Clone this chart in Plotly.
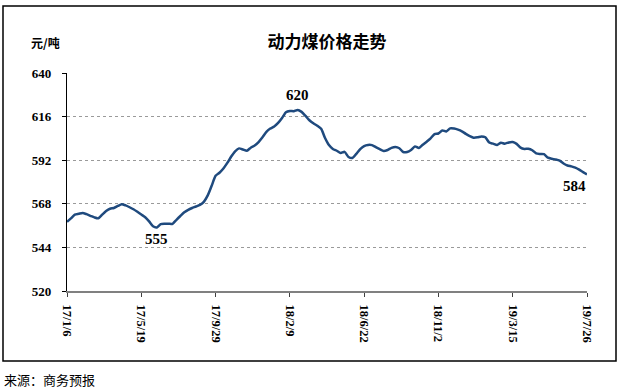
import pandas as pd
import plotly.graph_objects as go

# Weekly thermal coal price (元/吨), 2017-01-06 .. 2019-07-26
start_date = "2017-01-06"
prices = [
    558.1, 560.0, 562.0, 562.5, 563.0, 562.3, 561.4, 560.5, 560.0, 562.0,
    564.0, 565.3, 565.7, 566.8, 567.8, 567.1, 566.1, 565.0, 563.6, 562.1,
    560.6, 558.3, 555.6, 555.0, 556.8, 557.0, 557.0, 557.0, 559.2, 561.3,
    563.3, 564.7, 565.7, 566.5, 567.4, 569.1, 572.6, 577.9, 583.4, 585.1,
    587.4, 590.5, 594.0, 596.9, 598.5, 597.9, 597.2, 598.9, 600.1, 602.0,
    604.6, 607.6, 609.4, 610.6, 612.5, 615.2, 618.4, 619.1, 619.0, 619.7,
    618.6, 616.4, 614.0, 612.3, 611.0, 609.3, 604.2, 600.3, 598.2, 597.2,
    596.0, 596.6, 593.8, 593.2, 595.5, 598.1, 599.8, 600.4, 600.3, 599.2,
    598.1, 597.1, 597.6, 598.8, 599.3, 598.6, 596.5, 596.5, 597.6, 599.6,
    598.7, 600.5, 602.2, 604.0, 606.4, 606.7, 608.4, 607.8, 609.5, 609.4,
    608.8, 607.9, 606.5, 605.3, 604.4, 604.6, 605.1, 604.6, 601.7, 601.1,
    600.4, 601.6, 601.1, 601.8, 602.0, 601.0, 598.9, 598.2, 598.3, 597.5,
    595.7, 595.4, 595.3, 593.4, 592.8, 592.4, 591.8, 590.2, 589.1, 588.6,
    587.9, 586.8, 585.4, 584.2,
]
dates = pd.date_range(start_date, periods=len(prices), freq="7D")

tick_step = 19  # weeks between labelled ticks
tick_labels = ["17/1/6", "17/5/19", "17/9/29", "18/2/9", "18/6/22", "18/11/2", "19/3/15", "19/7/26"]
y_ticks = [520, 544, 568, 592, 616, 640]

# labelled extremes: (index, text)
label_peak = (59, "620")
label_low = (23, "555")
label_last = (len(prices) - 1, "584")

title_text = "动力煤价格走势"
unit_text = "元/吨"
source_text = "来源：商务预报"

serif = "Liberation Serif"
cjk = "Noto Sans CJK SC"

fig = go.Figure()
fig.add_trace(go.Scatter(
    x=dates, y=prices, mode="lines",
    line=dict(color="#1F4A7E", width=2.5, shape="spline", smoothing=0.6),
    hoverinfo="skip", showlegend=False,
))

fig.update_layout(
    width=618, height=390,
    margin=dict(l=67, r=31, t=73, b=99),
    paper_bgcolor="white", plot_bgcolor="white",
    title=dict(text=title_text, x=327 / 618, y=1 - 42 / 390, xanchor="center", yanchor="middle",
               font=dict(family=cjk, size=17, color="black", weight="bold")),
)

fig.update_xaxes(
    range=[dates[0], dates[-1]],
    tickvals=list(dates[::tick_step]), ticktext=tick_labels,
    tickangle=90, ticks="outside", ticklen=4, tickcolor="#404040",
    showline=True, linecolor="#808080", linewidth=2,
    showgrid=False, zeroline=False, ticklabelstandoff=5,
    tickfont=dict(family=serif, size=12.5, color="black", weight="bold"),
)
fig.update_yaxes(
    range=[520, 640], tickvals=y_ticks,
    ticks="outside", ticklen=4, tickcolor="black",
    showline=True, linecolor="black", linewidth=1.2,
    showgrid=True, gridcolor="#9a9a9a", gridwidth=1, griddash="dot",
    zeroline=False, ticklabelstandoff=8,
    tickfont=dict(family=serif, size=13, color="black", weight="bold"),
)

ann_font = dict(family=serif, size=15, color="black", weight="bold")
for idx, txt, xs, ys in [
    (label_peak[0], label_peak[1], 0, 15),
    (label_low[0], label_low[1], 0, -12),
    (label_last[0], label_last[1], -13, -12),
]:
    fig.add_annotation(x=dates[idx], y=prices[idx], text=txt, showarrow=False,
                       xshift=xs, yshift=ys, font=ann_font)

fig.add_annotation(xref="paper", yref="paper", x=(45 - 67) / 520, y=(291 - 42) / 218,
                   text=unit_text, showarrow=False, xanchor="center", yanchor="middle",
                   font=dict(family=cjk, size=12, color="black", weight="bold"))
fig.add_annotation(xref="paper", yref="paper", x=(2 - 67) / 520, y=(291 - 379) / 218,
                   text=source_text, showarrow=False, xanchor="left", yanchor="middle",
                   font=dict(family=cjk, size=13, color="black"))

# outer frame
fig.add_shape(type="rect", xref="paper", yref="paper",
              x0=(3 - 67) / 520, x1=(616 - 67) / 520,
              y0=(291 - 361) / 218, y1=(291 - 6) / 218,
              line=dict(color="black", width=1.5), fillcolor="rgba(0,0,0,0)")

fig.write_html("out.html", config={"displayModeBar": False},
               post_script="document.body.style.margin='0';document.body.style.overflow='hidden';")
